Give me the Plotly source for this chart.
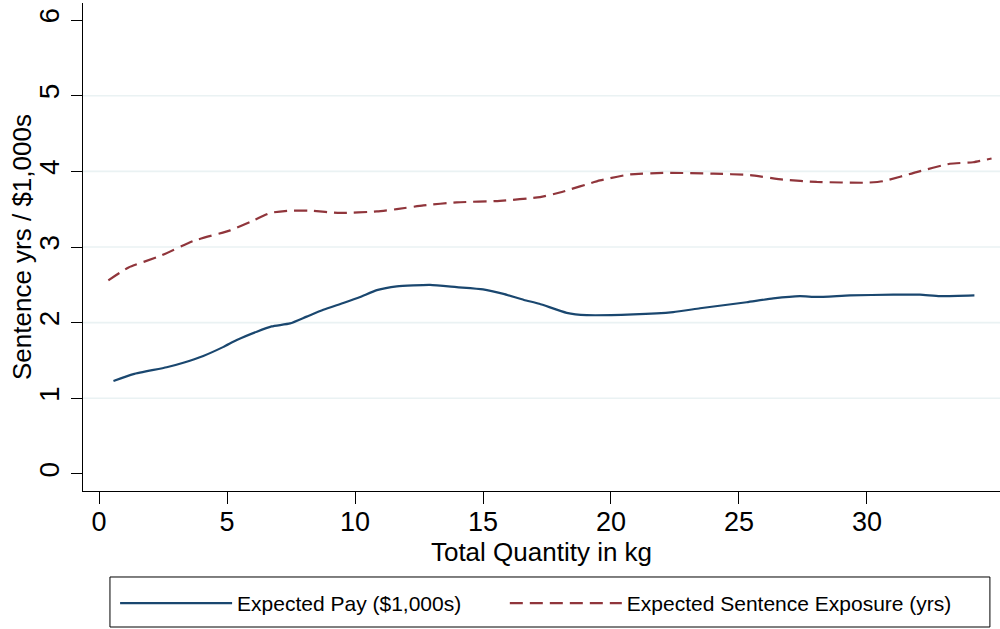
import plotly.graph_objects as go

# Expected Pay ($1,000s)
pay_x = [0.56, 1.34, 2.64, 3.29, 4.07, 4.86, 5.38, 6.16, 6.74, 7.46, 8.11, 8.76, 9.54, 10.2,
         10.85, 11.63, 12.93, 13.97, 15.0, 15.8, 16.6, 17.2, 18.27, 19.05, 20.87, 22.43,
         23.48, 25.3, 26.34, 27.38, 28.04, 29.34, 31.03, 32.07, 32.85, 34.2]
pay_y = [1.23, 1.32, 1.41, 1.47, 1.56, 1.68, 1.77, 1.88, 1.95, 1.99, 2.08, 2.17, 2.26, 2.34,
         2.43, 2.48, 2.50, 2.47, 2.44, 2.38, 2.30, 2.25, 2.13, 2.10, 2.11, 2.14,
         2.19, 2.27, 2.32, 2.35, 2.34, 2.36, 2.37, 2.37, 2.35, 2.36]

# Expected Sentence Exposure (yrs)
sent_x = [0.36, 1.15, 2.38, 3.68, 5.12, 5.9, 6.68, 7.46, 8.24, 9.41, 10.85, 11.63, 12.67,
          13.97, 15.66, 17.23, 18.0, 19.57, 20.74, 22.17, 23.99, 25.43, 26.73, 28.04,
          29.99, 30.64, 31.94, 33.24, 34.15, 34.87]
sent_y = [2.56, 2.73, 2.88, 3.08, 3.22, 3.33, 3.45, 3.48, 3.48, 3.45, 3.47, 3.50, 3.55,
          3.59, 3.61, 3.66, 3.72, 3.88, 3.96, 3.98, 3.97, 3.95, 3.89, 3.86,
          3.85, 3.87, 3.99, 4.10, 4.12, 4.17]

x_ticks = [0, 5, 10, 15, 20, 25, 30]
y_ticks = [0, 1, 2, 3, 4, 5, 6]
grid_vals = [1, 2, 3, 4, 5]

FONT = "Liberation Sans, Arial, sans-serif"

fig = go.Figure()
fig.add_trace(go.Scatter(x=pay_x, y=pay_y, mode="lines", name="Expected Pay ($1,000s)",
                         legend="legend", showlegend=True,
                         line=dict(color="#1a476f", width=2.2, shape="spline", smoothing=0.5)))
fig.add_trace(go.Scatter(x=sent_x, y=sent_y, mode="lines", name="Expected Sentence Exposure (yrs)",
                         legend="legend2", showlegend=True,
                         line=dict(color="#90353b", width=2.2, dash="13px,7px",
                                   shape="spline", smoothing=0.5)))

for g in grid_vals:
    fig.add_shape(type="line", xref="paper", yref="y", x0=0, x1=1, y0=g, y1=g,
                  line=dict(color="#eaf2f3", width=1.6), layer="below")

# legend frame
fig.add_shape(type="rect", xref="paper", yref="paper", x0=0.0294, x1=0.989, y0=-0.2787, y1=-0.1762,
              line=dict(color="black", width=1), fillcolor="rgba(0,0,0,0)")

leg_common = dict(orientation="h", xanchor="left", y=-0.1885, yanchor="top",
                  bgcolor="rgba(0,0,0,0)", borderwidth=0, font=dict(size=21, family=FONT),
                  itemwidth=112)

fig.update_layout(
    width=1000, height=629,
    showlegend=True,
    margin=dict(l=83, r=0, t=3, b=138, autoexpand=False),
    paper_bgcolor="white", plot_bgcolor="white",
    font=dict(family=FONT, color="black"),
    legend=dict(x=0.035, **leg_common),
    legend2=dict(x=0.460, **leg_common),
    annotations=[dict(text="Sentence yrs / $1,000s", xref="paper", yref="paper",
                      x=-0.0665, y=0.5, xanchor="center", yanchor="middle", textangle=-90,
                      showarrow=False, font=dict(size=26, family=FONT))],
    xaxis=dict(range=[-0.63, 35.2], tickvals=x_ticks, ticktext=[str(v) for v in x_ticks],
               showgrid=False, zeroline=False, showline=True, linecolor="black", linewidth=1.3,
               ticks="outside", ticklen=12, tickcolor="black", tickwidth=1, automargin=False,
               ticklabelstandoff=-6,
               tickfont=dict(size=27), title=dict(text="Total Quantity in kg", font=dict(size=26),
                                                  standoff=0)),
    yaxis=dict(range=[-0.225, 6.225], tickvals=y_ticks, ticktext=[str(v) for v in y_ticks],
               showgrid=False, zeroline=False, showline=True, linecolor="black", linewidth=1.3,
               ticks="outside", ticklen=11, tickcolor="black", tickwidth=1, tickangle=-90,
               automargin=False, ticklabelstandoff=1,
               tickfont=dict(size=28)),
)

fig.write_html("out.html", config={"displayModeBar": False},
               post_script="document.body.style.margin='0px';")
